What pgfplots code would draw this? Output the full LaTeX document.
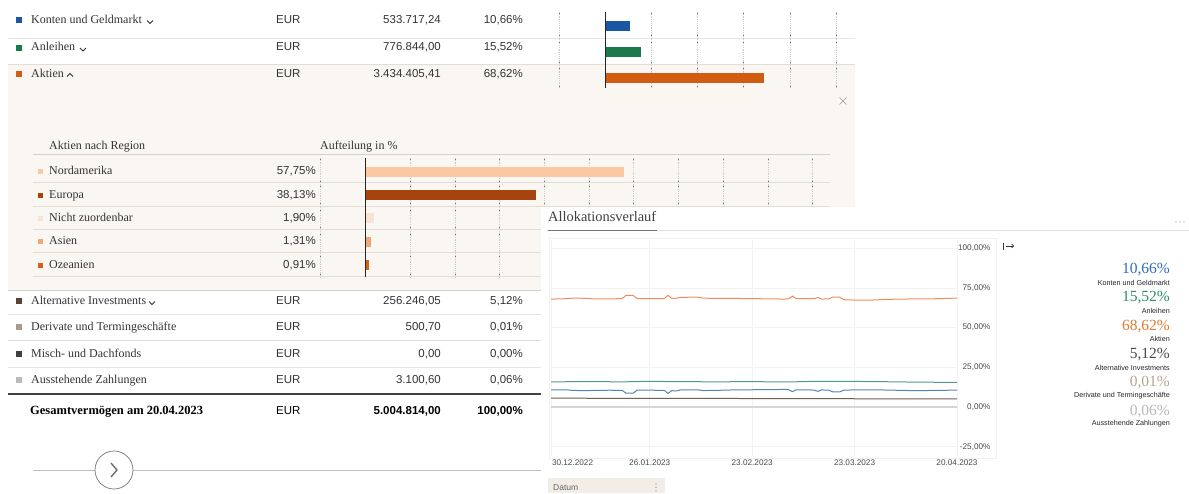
\documentclass[border=0pt]{standalone}
\usepackage{fontspec}
\setmainfont{Liberation Serif}
\setsansfont{Liberation Sans}
\usepackage{pgfplots}
\pgfplotsset{compat=1.18}
\usetikzlibrary{arrows.meta}
\definecolor{beige}{HTML}{FAF6F2}
\definecolor{txt}{HTML}{333333}
\definecolor{sep}{HTML}{E6DCD6}
\definecolor{cKonten}{HTML}{1B56A3}
\definecolor{cAnl}{HTML}{1A7A4C}
\definecolor{cAkt}{HTML}{D25C12}
\definecolor{cNord}{HTML}{FAC8A2}
\definecolor{cEur}{HTML}{A6430E}
\definecolor{cNicht}{HTML}{F7E3D5}
\definecolor{cAsien}{HTML}{F2A678}
\definecolor{cOz}{HTML}{D4621C}
\definecolor{cAlt}{HTML}{5A4335}
\definecolor{cDer}{HTML}{A99C8A}
\definecolor{cMisch}{HTML}{404040}
\definecolor{cAus}{HTML}{BBBBBB}
\definecolor{lKonten}{HTML}{5384B8}
\definecolor{lAnl}{HTML}{4F9A90}
\definecolor{lAkt}{HTML}{EB8E5E}
\definecolor{lAlt}{HTML}{6E6055}
\definecolor{lDer}{HTML}{D9CBBE}
\definecolor{lAus}{HTML}{D0D0D0}
\definecolor{gKonten}{HTML}{2F6DB5}
\definecolor{gAnl}{HTML}{2E8B6B}
\definecolor{gAkt}{HTML}{E07A2E}
\definecolor{gAlt}{HTML}{4A4A4A}
\definecolor{gDer}{HTML}{B5A48E}
\definecolor{gAus}{HTML}{B8B8B8}
\definecolor{datum}{HTML}{F3EDE8}
\tikzset{
 lab/.style={font=\fontsize{12}{14}\selectfont, text=txt, inner sep=0pt, anchor=west, text height=8.5pt, text depth=2.5pt},
 num/.style={font=\sffamily\fontsize{11.5}{13}\selectfont, text=txt, inner sep=0pt, anchor=east, text height=8.5pt, text depth=2.5pt},
 chev/.style={draw=txt, line width=0.8pt},
 gm/.style={draw=black!55, line width=0.6pt},
}
\begin{document}
\begin{tikzpicture}
\fill[white] (0pt,0pt) rectangle (1189pt,-493pt);
\path[use as bounding box] (0pt,0pt) rectangle (1189pt,-493pt);
\begin{scope}[x=1pt,y=-1pt]
 % backgrounds and separators (top table)
 \fill[beige] (8,65) rectangle (855,290);
 \draw[black!10, line width=0.8pt] (8,38.5) -- (855,38.5);
 \draw[sep, line width=1.8pt] (8,64.5) -- (855,64.5);
 % top rows
 \fill[cKonten] (16,17) rectangle (22,23);
 \node[lab] at (31,20) {Konten und Geldmarkt};
 \draw[chev] (147,20.5) -- (150,23.5) -- (153,20.5);
 \node[num, anchor=west] at (276,20) {EUR};
 \node[num] at (441,20) {533.717,24};
 \node[num] at (523,20) {10,66\%};
 \fill[cAnl] (16,44.5) rectangle (22,50.5);
 \node[lab] at (31,47.5) {Anleihen};
 \draw[chev] (80,48) -- (83,51) -- (86,48);
 \node[num, anchor=west] at (276,47.5) {EUR};
 \node[num] at (441,47.5) {776.844,00};
 \node[num] at (523,47.5) {15,52\%};
 \fill[cAkt] (16,71) rectangle (22,77);
 \node[lab] at (31,74) {Aktien};
 \draw[chev] (67,76.5) -- (70,73.5) -- (73,76.5);
 \node[num, anchor=west] at (276,74) {EUR};
 \node[num] at (441,74) {3.434.405,41};
 \node[num] at (523,74) {68,62\%};
 \draw[black!40, line width=0.6pt] (839.5,97.5) -- (846.5,104.5) (839.5,104.5) -- (846.5,97.5);
 % grid marks for top bars
 \foreach \gx in {559,651.3,697.5,743.7,789.8,836}{
   \foreach \gy in {13,34.5,41.5,60.5,67.5,85}{\draw[gm] (\gx,\gy) -- (\gx,\gy+2);}}
 % sub table
 \node[lab] at (49,146) {Aktien nach Region};
 \node[lab] at (320,146) {Aufteilung in \%};
 \draw[black!18, line width=0.8pt] (33,154) -- (830,154);
 \foreach \ly in {182.7,206,252.7,276}{\draw[sep, line width=0.8pt] (33,\ly) -- (830,\ly);}
 \draw[sep, line width=1.4pt] (33,229.3) -- (830,229.3);
 \fill[cNord] (38,169.2) rectangle (43,174.2);
 \node[lab] at (49,171.7) {Nordamerika};
 \node[num] at (316,171.7) {57,75\%};
 \fill[cEur] (38,192.5) rectangle (43,197.5);
 \node[lab] at (49,195) {Europa};
 \node[num] at (316,195) {38,13\%};
 \fill[cNicht] (38,215.8) rectangle (43,220.8);
 \node[lab] at (49,218.3) {Nicht zuordenbar};
 \node[num] at (316,218.3) {1,90\%};
 \fill[cAsien] (38,239.1) rectangle (43,244.1);
 \node[lab] at (49,241.6) {Asien};
 \node[num] at (316,241.6) {1,31\%};
 \fill[cOz] (38,262.5) rectangle (43,267.5);
 \node[lab] at (49,265) {Ozeanien};
 \node[num] at (316,265) {0,91\%};
 \foreach \gx in {320.7,410.1,454.8,499.6,544.3,589.0,633.7,678.4,723.1,767.8,812.5}{
   \foreach \gy in {159,179.5,186,202.8,209.3,226.1,232.6,249.5,256,272.5}{\draw[gm] (\gx,\gy) -- (\gx,\gy+2);}}
\end{scope}

% top bars
\begin{axis}[at={(559pt,-88pt)}, anchor=south west, scale only axis, width=277pt, height=76pt,
 xmin=-20, xmax=100, ymin=-0.54, ymax=2.38, y dir=reverse,
 xbar, bar width=10pt, bar shift=0pt,
 axis line style={draw=none}, tick style={draw=none}, xticklabels={}, ytick=\empty,
 xtick={-20,20,40,60,80,100}, xmajorgrids, major grid style={black!20, line width=0.45pt, dash pattern=on 1.2pt off 1pt},
 clip=false]
\addplot[fill=cKonten, draw=none] coordinates {(10.66,0)};
\addplot[fill=cAnl, draw=none] coordinates {(15.52,1)};
\addplot[fill=cAkt, draw=none] coordinates {(68.62,2)};
\draw[black!85, line width=1pt] (axis cs:0,-0.54) -- (axis cs:0,2.38);
\end{axis}

% sub bars
\begin{axis}[at={(320.7pt,-277pt)}, anchor=south west, scale only axis, width=491.8pt, height=119pt,
 xmin=-10, xmax=100, ymin=-0.588, ymax=4.515, y dir=reverse,
 xbar, bar width=10pt, bar shift=0pt,
 axis line style={draw=none}, tick style={draw=none}, xticklabels={}, ytick=\empty,
 xtick={-10,10,20,30,40,50,60,70,80,90,100}, xmajorgrids, major grid style={black!20, line width=0.45pt, dash pattern=on 1.2pt off 1pt},
 clip=false]
\addplot[fill=cNord, draw=none] coordinates {(57.75,0)};
\addplot[fill=cEur, draw=none] coordinates {(38.13,1)};
\addplot[fill=cNicht, draw=none] coordinates {(1.90,2)};
\addplot[fill=cAsien, draw=none] coordinates {(1.31,3)};
\addplot[fill=cOz, draw=none] coordinates {(0.91,4)};
\draw[black!85, line width=1pt] (axis cs:0,-0.588) -- (axis cs:0,4.515);
\end{axis}

\begin{scope}[x=1pt,y=-1pt]
 % lower table
 \draw[black!18, line width=0.8pt] (8,290) -- (541,290);
 \foreach \ly in {314,367}{\draw[black!10, line width=0.8pt] (8,\ly) -- (541,\ly);}
 \draw[sep, line width=1.4pt] (8,340.5) -- (541,340.5);
 \draw[black!75, line width=1.4pt] (8,394) -- (541,394);
 \fill[cAlt] (16,298) rectangle (22,304);
 \node[lab] at (31,301) {Alternative Investments};
 \draw[chev] (149,301.5) -- (152,304.5) -- (155,301.5);
 \node[num, anchor=west] at (276,301) {EUR};
 \node[num] at (441,301) {256.246,05};
 \node[num] at (523,301) {5,12\%};
 \fill[cDer] (16,324) rectangle (22,330);
 \node[lab] at (31,327) {Derivate und Termingeschäfte};
 \node[num, anchor=west] at (276,327) {EUR};
 \node[num] at (441,327) {500,70};
 \node[num] at (523,327) {0,01\%};
 \fill[cMisch] (16,351) rectangle (22,357);
 \node[lab] at (31,354) {Misch- und Dachfonds};
 \node[num, anchor=west] at (276,354) {EUR};
 \node[num] at (441,354) {0,00};
 \node[num] at (523,354) {0,00\%};
 \fill[cAus] (16,377) rectangle (22,383);
 \node[lab] at (31,380) {Ausstehende Zahlungen};
 \node[num, anchor=west] at (276,380) {EUR};
 \node[num] at (441,380) {3.100,60};
 \node[num] at (523,380) {0,06\%};
 \node[lab, font=\bfseries\fontsize{12.5}{14}\selectfont, text=black] at (30,411) {Gesamtvermögen am 20.04.2023};
 \node[num, anchor=west, text=black] at (276,411) {EUR};
 \node[num, font=\sffamily\bfseries\fontsize{11.5}{13}\selectfont, text=black] at (441,411) {5.004.814,00};
 \node[num, font=\sffamily\bfseries\fontsize{11.5}{13}\selectfont, text=black] at (523,411) {100,00\%};
 % bottom navigation
 \draw[black!25, line width=0.7pt] (33,470) -- (95,470) (133,470) -- (541,470);
 \draw[black!55, line width=0.7pt] (114,470) circle (19);
 \draw[black!60, line width=1.3pt] (111,463) -- (117,470) -- (111,477);
 % panel
 \fill[white] (541,207) rectangle (1189,493);
 \node[lab, font=\fontsize{14.4}{16}\selectfont, text=black!75] at (548,218) {Allokationsverlauf};
 \draw[black!55, line width=0.8pt] (548,230) -- (657,230);
 \draw[black!12, line width=0.6pt] (657,230) -- (1189,230);
 \foreach \dx in {1176,1180,1184}{\fill[black!45] (\dx,222) circle (0.6);}
 \draw[black!6, line width=0.6pt] (549,238) rectangle (996,458);
 \draw[black!80, line width=0.6pt] (1003.5,242.5) -- (1003.5,249.5);
 \draw[black!80, line width=0.6pt, -{Straight Barb[length=2pt]}] (1006,246) -- (1014,246);
 \fill[datum] (548,478) rectangle (665,493);
 \node[anchor=west, inner sep=0pt, font=\sffamily\fontsize{8.5}{10}\selectfont, text=black!60] at (553,488) {Datum};
 \foreach \dy in {484,487.5,491}{\fill[black!50] (656,\dy) circle (0.6);}
 % right legend
 \foreach \yv/\yl/\c/\v/\l in {270/282.5/gKonten/{10,66\%}/{Konten und Geldmarkt},
    298/311/gAnl/{15,52\%}/Anleihen, 326.5/339/gAkt/{68,62\%}/Aktien,
    355/368/gAlt/{5,12\%}/{Alternative Investments}, 383/396/gDer/{0,01\%}/{Derivate und Termingeschäfte},
    411.5/424/gAus/{0,06\%}/{Ausstehende Zahlungen}}{
   \node[anchor=east, inner sep=0pt, font=\fontsize{15.5}{17}\selectfont, text=\c] at (1170,\yv) {\v};
   \node[anchor=east, inner sep=0pt, font=\sffamily\fontsize{7.2}{8}\selectfont, text=black!85] at (1170,\yl) {\l};
 }
\end{scope}

% allocation history
\begin{axis}[at={(551pt,-455.5pt)}, anchor=south west, scale only axis, width=406pt, height=216pt,
 xmin=0, xmax=111, ymin=-30.5, ymax=105.5,
 axis line style={draw=none}, tick style={draw=none},
 xtick={0,27,55,83,111}, xticklabels={,26.01.2023,23.02.2023,23.03.2023,20.04.2023},
 ytick={-25,0,25,50,75,100},
 yticklabels={{-25,00\%},{0,00\%},{25,00\%},{50,00\%},{75,00\%},{100,00\%}},
 yticklabel pos=right,
 grid=major, major grid style={black!5, line width=0.6pt},
 ticklabel style={font=\sffamily\fontsize{8.2}{9}\selectfont, text=black!70},
 yticklabel style={anchor=east, xshift=37pt},
 xticklabel style={yshift=-1pt},
 clip=false]
\addplot[lDer, line width=1.1pt] coordinates {(0,0.05)(30,0.03)(60,0.02)(90,0.02)(111,0.01)};
\addplot[lAus, line width=1.1pt] coordinates {(0,0.2)(30,0.15)(60,0.1)(90,0.08)(111,0.06)};
\addplot[lAlt, line width=1pt] coordinates {(0,5.6)(20,5.5)(40,5.45)(60,5.35)(80,5.25)(100,5.15)(111,5.12)};
\addplot[lAnl, line width=1pt] coordinates {(0,15.9)(10,16.0)(20,15.9)(27,16.2)(35,16.0)(45,15.9)(55,16.0)(65,15.8)(70,16.1)(80,16.2)(90,16.0)(100,15.7)(111,15.52)};
\addplot[lKonten, line width=1pt] coordinates {(0,10.9)(4,10.9)(6,10.5)(9,10.3)(12,10.5)(16,10.6)(19.5,10.5)(20.5,8.7)(22.5,8.7)(23.5,10.6)(28,10.6)(31,10.5)(32,8.6)(33,10.3)(34.5,10.2)(35.5,10.9)(40,10.9)(41.5,10.4)(45,10.5)(50,10.8)(55,10.9)(60,11.0)(64,11.1)(65,10.9)(66,9.7)(67,10.8)(71,10.8)(72,10.6)(73,9.9)(74,10.8)(76,10.6)(77,9.6)(79,9.6)(80,10.6)(84,10.9)(90,10.8)(96,10.5)(100,10.3)(105,10.5)(111,10.66)};
\addplot[lAkt, line width=1pt] coordinates {(0,68.0)(3,68.1)(6,68.6)(9,68.5)(12,68.1)(15,68.1)(18,68.2)(19.5,68.4)(20.5,70.3)(22.5,70.3)(23.5,68.3)(26,68.2)(29,68.2)(31,68.3)(32,70.4)(33,68.4)(34.5,68.6)(35.5,69.1)(40,69.2)(41.5,68.6)(45,68.4)(50,68.4)(55,68.3)(60,68.1)(64,68.0)(65,68.2)(66,69.9)(67,68.3)(71,68.2)(72,68.3)(73,69.0)(74,68.0)(76,68.1)(77,69.2)(79,69.2)(80,67.6)(84,67.3)(88,67.4)(92,67.8)(96,68.0)(100,68.1)(105,68.2)(111,68.62)};
\node[anchor=north west, font=\sffamily\fontsize{8.2}{9}\selectfont, text=black!70, xshift=-2.5pt, yshift=-1pt] at (axis cs:0,-30.5) {30.12.2022};
\end{axis}
\end{tikzpicture}
\end{document}
